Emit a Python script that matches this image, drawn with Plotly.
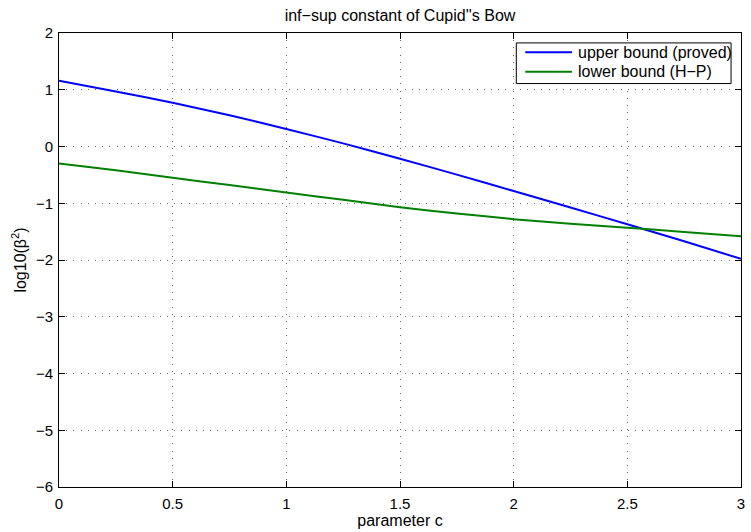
import plotly.graph_objects as go

# parameter c and log10 of the squared inf-sup constant bounds
c_vals = [0, 0.25, 0.5, 0.75, 1.0, 1.25, 1.5, 1.75, 2.0, 2.25, 2.5, 2.75, 3.0]
upper_bound = [1.16, 0.97, 0.77, 0.55, 0.31, 0.055, -0.215, -0.495, -0.785, -1.075, -1.37, -1.67, -1.98]
lower_bound = [-0.30, -0.42, -0.55, -0.68, -0.81, -0.94, -1.07, -1.18, -1.28, -1.36, -1.43, -1.505, -1.58]

series_names = ["upper bound (proved)", "lower bound (H\u2212P)"]
series_colors = ["rgb(0,0,255)", "rgb(0,128,0)"]

x_ticks = [0, 0.5, 1, 1.5, 2, 2.5, 3]
x_ticktext = ["0", "0.5", "1", "1.5", "2", "2.5", "3"]
y_ticks = [-6, -5, -4, -3, -2, -1, 0, 1, 2]

FONT = "Liberation Sans, Arial, Helvetica, sans-serif"
W, H = 751, 532
M_L, M_R, M_T, M_B = 59, 6, 33, 41
PW, PH = W - M_L - M_R, H - M_T - M_B


def px_to_paper(px, py):
    """Convert page pixel coordinates to paper coordinates."""
    return (px - M_L) / PW, (H - M_B - py) / PH


fig = go.Figure()
for name, color, ys in zip(series_names, series_colors, [upper_bound, lower_bound]):
    fig.add_trace(go.Scatter(
        x=c_vals, y=ys, mode="lines", name=name, showlegend=False,
        line=dict(color=color, width=2, shape="spline", smoothing=0.5),
    ))

# boxed legend in the upper right corner of the axes
box_l, box_r, box_t, box_b = 519, 735, 43, 84
row_y = [52.5, 72]
x0, y0 = px_to_paper(box_l, box_b)
x1, y1 = px_to_paper(box_r, box_t)
fig.add_shape(type="rect", xref="paper", yref="paper", x0=x0, y0=y0, x1=x1, y1=y1,
              line=dict(color="black", width=1), fillcolor="white", layer="above")
for name, color, ry in zip(series_names, series_colors, row_y):
    lx0, ly = px_to_paper(box_l + 9, ry)
    lx1, _ = px_to_paper(box_l + 56, ry)
    fig.add_shape(type="line", xref="paper", yref="paper", x0=lx0, x1=lx1, y0=ly, y1=ly,
                  line=dict(color=color, width=2), layer="above")
    tx, _ = px_to_paper(box_l + 60, ry)
    fig.add_annotation(text=name, xref="paper", yref="paper", x=tx, y=ly,
                       xanchor="left", yanchor="middle", showarrow=False,
                       font=dict(family=FONT, size=16, color="black"))

axis_common = dict(
    showline=True, linecolor="black", linewidth=1, mirror="allticks",
    ticks="inside", ticklen=6, tickcolor="black", tickwidth=1,
    showgrid=True, gridcolor="rgba(0,0,0,0.6)", gridwidth=1, griddash="1px,6.2px",
    zeroline=False, tickfont=dict(family=FONT, size=15, color="black"),
)

fig.update_layout(
    width=W, height=H,
    margin=dict(l=M_L, r=M_R, t=M_T, b=M_B),
    paper_bgcolor="white", plot_bgcolor="white",
    font=dict(family=FONT, size=15, color="black"),
    title=dict(
        text="inf\u2212sup constant of Cupid''s Bow",
        x=0.5, xref="paper", xanchor="center",
        y=1 - 15 / H, yref="container", yanchor="middle",
        font=dict(family=FONT, size=16, color="black"),
    ),
    xaxis=dict(
        range=[0, 3], tickvals=x_ticks, ticktext=x_ticktext, ticklabelstandoff=3,
        title=dict(text="parameter c", standoff=3,
                   font=dict(family=FONT, size=16, color="black")),
        **axis_common,
    ),
    yaxis=dict(
        range=[-6, 2], tickvals=y_ticks, ticklabelstandoff=2,
        title=dict(text="log10(\u03b2<sup>2</sup>)", standoff=5,
                   font=dict(family=FONT, size=16, color="black")),
        **axis_common,
    ),
    showlegend=False,
)

fig.write_html("out.html")
